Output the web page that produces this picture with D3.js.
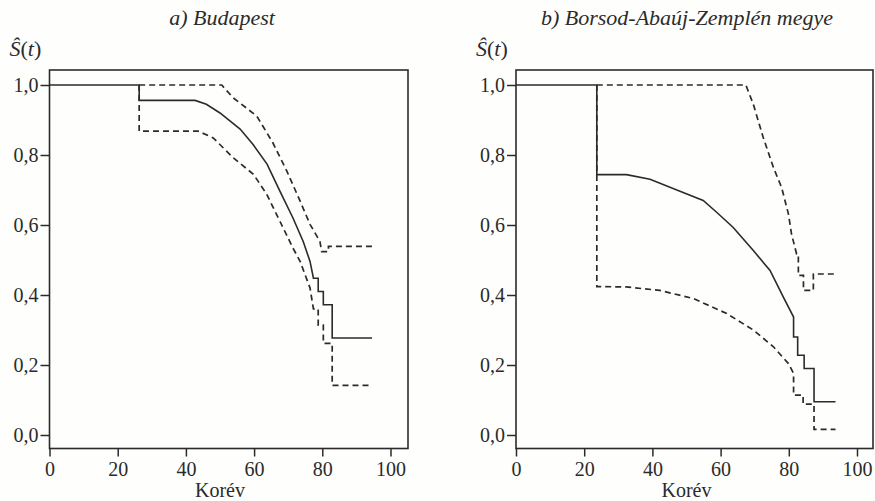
<!DOCTYPE html>
<html>
<head>
<meta charset="utf-8">
<script src="https://cdn.jsdelivr.net/npm/d3@7"></script>
<style>
  body { margin: 0; background: #fefefc; }
  svg { display: block; }
</style>
</head>
<body>
<script>
"use strict";

// ticks shared by both panels
const xTicks = [0, 20, 40, 60, 80, 100];
const yTicks = [0, 0.2, 0.4, 0.6, 0.8, 1.0];

// a) Budapest - [age, S(t)]
const budapestEst = [[0, 1.0], [26.3, 1.0], [26.3, 0.956], [42.7, 0.956], [46, 0.945], [50, 0.92],
  [55.9, 0.874], [59.7, 0.83], [63.8, 0.774], [67.6, 0.696], [71.4, 0.62], [74.4, 0.553],
  [76.4, 0.496], [77.4, 0.448], [78.8, 0.448], [78.8, 0.41], [80.3, 0.41], [80.3, 0.372],
  [82.9, 0.372], [82.9, 0.277], [94.6, 0.277]];
const budapestUpper = [[26.3, 1.0], [50.5, 1.0], [53.8, 0.964], [60.8, 0.911], [65.5, 0.835],
  [69.6, 0.754], [73.5, 0.668], [76.4, 0.602], [79.3, 0.553], [79.8, 0.524], [81.8, 0.524],
  [81.8, 0.539], [94.6, 0.539]];
const budapestLower = [[26.3, 1.0], [26.3, 0.868], [43.6, 0.868], [48, 0.849], [53.9, 0.792],
  [59.8, 0.745], [63.7, 0.688], [67.6, 0.61], [71.4, 0.534], [73.5, 0.496], [76.4, 0.42],
  [77.4, 0.36], [78.8, 0.36], [78.8, 0.314], [80.3, 0.314], [80.3, 0.262], [82.9, 0.262],
  [82.9, 0.142], [94.6, 0.142]];

// b) Borsod-Abaúj-Zemplén megye
const bazEst = [[0, 1.0], [23.7, 1.0], [23.7, 0.744], [32.4, 0.744], [39.3, 0.731], [49, 0.693],
  [54.9, 0.67], [59, 0.635], [63.7, 0.593], [69.6, 0.527], [74.5, 0.47], [78.4, 0.394],
  [81.4, 0.337], [81.4, 0.28], [82.6, 0.28], [82.6, 0.228], [84.5, 0.228], [84.5, 0.19],
  [87.4, 0.19], [87.4, 0.095], [93.7, 0.095]];
const bazUpper = [[23.7, 1.0], [67.4, 1.0], [69.6, 0.945], [72.5, 0.85], [75.5, 0.764],
  [77.9, 0.707], [79.9, 0.631], [80.8, 0.574], [82.3, 0.517], [82.8, 0.517], [82.8, 0.456],
  [84.3, 0.456], [84.3, 0.413], [87.2, 0.413], [87.2, 0.46], [93.7, 0.46]];
const bazLower = [[23.7, 1.0], [23.7, 0.424], [32.4, 0.423], [42.2, 0.413], [52, 0.39],
  [61.8, 0.347], [69.6, 0.3], [75.5, 0.252], [79.9, 0.204], [81.4, 0.176], [81.4, 0.114],
  [84.2, 0.114], [84.2, 0.088], [87.4, 0.088], [87.4, 0.016], [93.7, 0.016]];

const titleA = "a) Budapest";
const titleB = "b) Borsod-Abaúj-Zemplén megye";
const xLabel = "Korév";

const W = 875, H = 501;
const ink = "#2b2b2b";
const serif = "Liberation Serif";

const svg = d3.select("body").append("svg")
    .attr("width", W)
    .attr("height", H)
    .attr("font-family", serif);

svg.append("rect")
    .attr("width", W).attr("height", H)
    .attr("fill", "#fefefc");

function fmt(d) {
    return d3.format(".1f")(d).replace(".", ",");
}

function drawPanel(left, right, title, titleX, est, upper, lower) {
    /**
     * One survival panel: frame, axes, the estimate and its two bands.
     * left/right are the pixel positions of age 0 and of the frame edge.
     */
    const x = d3.scaleLinear().domain([0, 100]).range([left, left + 341]);
    const y = d3.scaleLinear().domain([0, 1]).range([435, 85]);
    const top = 70, bottom = 448.5;

    const g = svg.append("g");

    // frame
    g.append("rect")
        .attr("x", left)
        .attr("y", top)
        .attr("width", right - left)
        .attr("height", bottom - top)
        .attr("fill", "none")
        .attr("stroke", ink)
        .attr("stroke-width", 1.6);

    const xAxis = d3.axisBottom(x).tickValues(xTicks).tickSize(8).tickPadding(5);
    const yAxis = d3.axisLeft(y).tickValues(yTicks).tickSize(9).tickPadding(2).tickFormat(fmt);

    const gx = g.append("g")
        .attr("transform", "translate(0," + bottom + ")")
        .call(xAxis);
    const gy = g.append("g")
        .attr("transform", "translate(" + left + ",0)")
        .call(yAxis);

    [gx, gy].forEach(a => {
        a.attr("font-family", serif).attr("font-size", 20);
        a.select(".domain").remove();
        a.selectAll("line").attr("stroke", ink).attr("stroke-width", 1.5);
        a.selectAll("text")
            .style("font-family", serif)
            .attr("fill", ink);
    });

    // axis labels
    g.append("text")
        .attr("x", x(50))
        .attr("y", 497)
        .attr("text-anchor", "middle")
        .attr("font-size", 20)
        .style("font-family", serif)
        .attr("fill", ink)
        .text(xLabel);

    const yl = g.append("text")
        .attr("x", left - 40)
        .attr("y", 56)
        .attr("font-size", 22)
        .style("font-family", serif)
        .attr("fill", ink);
    yl.append("tspan").attr("font-style", "italic").text("Ŝ");
    yl.append("tspan").text("(");
    yl.append("tspan").attr("font-style", "italic").text("t");
    yl.append("tspan").text(")");

    g.append("text")
        .attr("x", titleX)
        .attr("y", 25)
        .attr("text-anchor", "middle")
        .attr("font-size", 22)
        .attr("font-style", "italic")
        .style("font-family", serif)
        .attr("fill", ink)
        .text(title);

    const line = d3.line()
        .x(d => x(d[0]))
        .y(d => y(d[1]));

    [upper, lower].forEach(band => {
        g.append("path")
            .datum(band)
            .attr("d", line)
            .attr("fill", "none")
            .attr("stroke", ink)
            .attr("stroke-width", 1.7)
            .attr("stroke-dasharray", "6,4");
    });

    g.append("path")
        .datum(est)
        .attr("d", line)
        .attr("fill", "none")
        .attr("stroke", ink)
        .attr("stroke-width", 1.6);
}

drawPanel(49.5, 408, titleA, 222, budapestEst, budapestUpper, budapestLower);
drawPanel(516, 873, titleB, 687, bazEst, bazUpper, bazLower);
</script>
</body>
</html>
